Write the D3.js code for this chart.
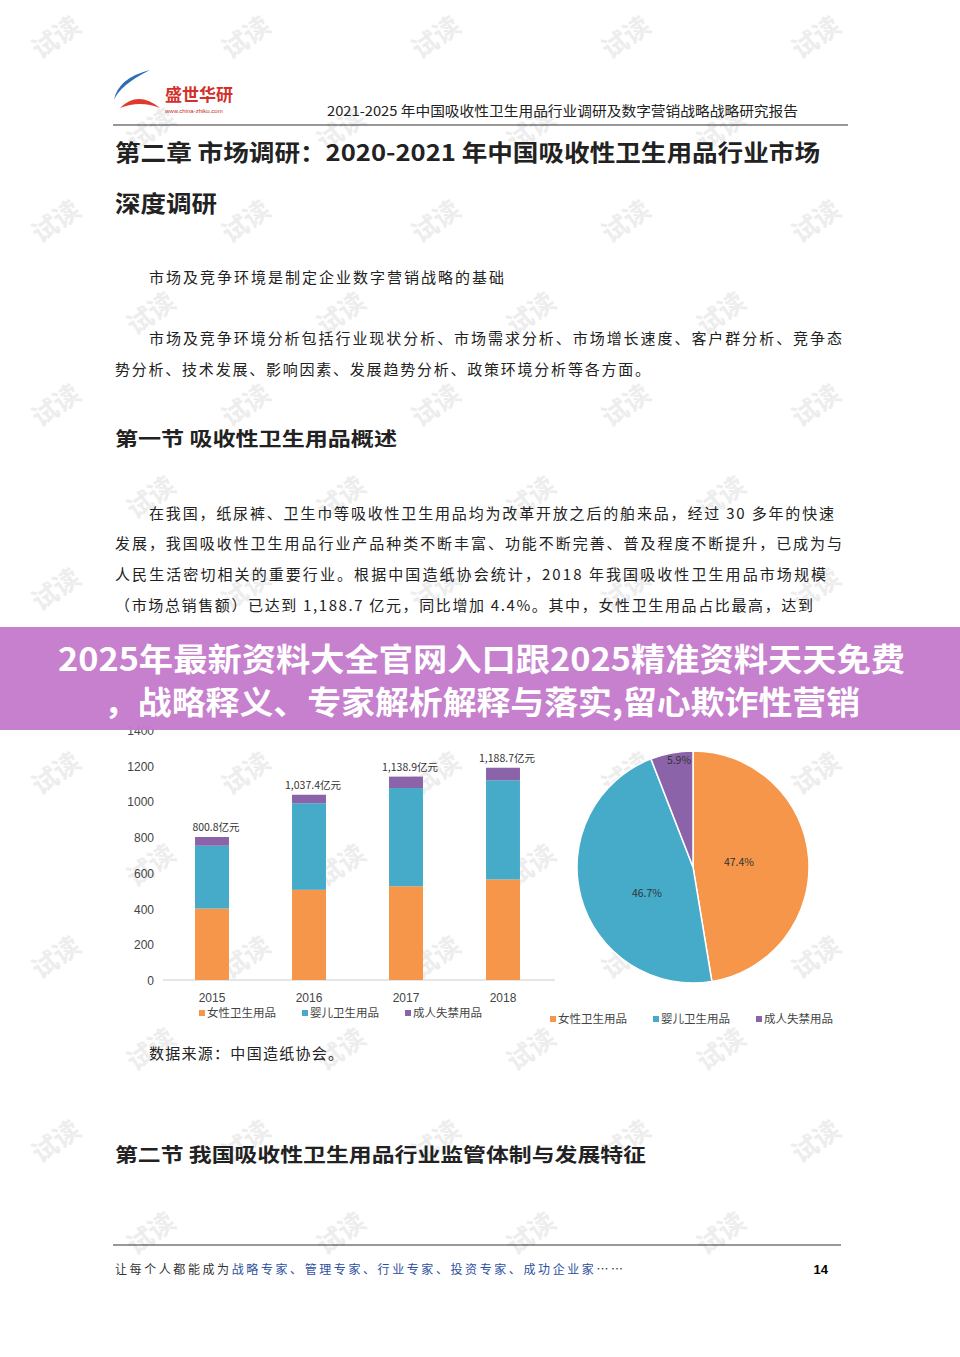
<!DOCTYPE html>
<html><head><meta charset="utf-8">
<script src="https://cdn.jsdelivr.net/npm/d3@7"></script>
<style>body{margin:0;background:#fff}svg{display:block}</style>
</head><body>
<svg width="960" height="1357"></svg>
<script>
const years = ['2015', '2016', '2017', '2018'];
const seriesNames = ['女性卫生用品', '婴儿卫生用品', '成人失禁用品'];
const female = [400, 505, 525, 563.4];
const baby = [352, 485, 550, 555.1];
const adult = [48.8, 47.4, 63.9, 70.2];
const totalLabels = ['800.8亿元', '1,037.4亿元', '1,138.9亿元', '1,188.7亿元'];
const yTicks = [0, 200, 400, 600, 800, 1000, 1200, 1400];
const pieShares = [47.4, 46.7, 5.9];
const pieLabels = ['47.4%', '46.7%', '5.9%'];
const colors = ['#f5964a', '#45abc9', '#8a63a8'];

const svg = d3.select('svg');
const font = "'Noto Sans CJK SC', sans-serif";

// watermarks
const wm = svg.append('g').attr('fill', '#ededed').attr('font-size', 26).attr('font-family', font).attr('font-weight', 'bold');
for (let r = 0; r < 14; r++) for (let c = 0; c < 5; c++) {
  const x = 40 + c * 190 + (r % 2) * 95, y = 60 + r * 92;
  if (x > 880) continue;
  wm.append('text').attr('transform', `translate(${x},${y}) rotate(-35)`).text('试读');
}

// header
svg.append('text').attr('x', 165).attr('y', 101).attr('fill', '#d2302a').attr('font-size', 17).attr('font-weight', 'bold').attr('font-family', font).text('盛世华研');
svg.append('text').attr('x', 165).attr('y', 113).attr('fill', '#c0302a').attr('font-size', 6).attr('font-family', 'Arial').text('www.china-zhiku.com');
svg.append('path').attr('d', 'M150,70 Q118,78 114,100 Q120,85 150,70Z').attr('fill', '#2f6fb5');
svg.append('path').attr('d', 'M120,108 Q138,90 160,108 Q140,100 120,108Z').attr('fill', '#e03a2e');
svg.append('text').attr('x', 327).attr('y', 116).attr('font-size', 13.5).attr('font-family', font).attr('fill', '#222')
  .attr('textLength', 471).attr('lengthAdjust', 'spacingAndGlyphs').text('2021-2025 年中国吸收性卫生用品行业调研及数字营销战略战略研究报告');
svg.append('line').attr('x1', 113).attr('x2', 848).attr('y1', 125).attr('y2', 125).attr('stroke', '#333').attr('stroke-width', 1.2);

const txt = (x, y, s, size, bold, endX, adj) => {
  const t = svg.append('text').attr('x', x).attr('y', y).attr('font-size', size)
    .attr('font-family', font).attr('font-weight', bold ? 'bold' : 'normal').attr('fill', '#222').text(s);
  if (endX) t.attr('textLength', endX - x).attr('lengthAdjust', adj || 'spacing');
  return t;
};
txt(115, 161, '第二章  市场调研：2020-2021 年中国吸收性卫生用品行业市场', 23, true, 820, 'spacingAndGlyphs');
txt(115, 212, '深度调研', 23, true, 217, 'spacingAndGlyphs');
txt(149, 283, '市场及竞争环境是制定企业数字营销战略的基础', 15, false, 504);
txt(149, 344, '市场及竞争环境分析包括行业现状分析、市场需求分析、市场增长速度、客户群分析、竞争态', 15, false, 842);
txt(115, 375, '势分析、技术发展、影响因素、发展趋势分析、政策环境分析等各方面。', 15, false, 650);
txt(115, 446, '第一节  吸收性卫生用品概述', 19, true, 397, 'spacingAndGlyphs');
txt(149, 519, '在我国，纸尿裤、卫生巾等吸收性卫生用品均为改革开放之后的舶来品，经过 30 多年的快速', 15, false, 834);
txt(115, 549, '发展，我国吸收性卫生用品行业产品种类不断丰富、功能不断完善、普及程度不断提升，已成为与', 15, false, 842);
txt(115, 580, '人民生活密切相关的重要行业。根据中国造纸协会统计，2018   年我国吸收性卫生用品市场规模', 15, false, 826);
txt(115, 611, '（市场总销售额）已达到 1,188.7 亿元，同比增加 4.4%。其中，女性卫生用品占比最高，达到', 15, false, 813);
txt(149, 1059, '数据来源：中国造纸协会。', 15, false, 343);
txt(115, 1162, '第二节  我国吸收性卫生用品行业监管体制与发展特征', 19, true, 646, 'spacingAndGlyphs');

// stacked bars
const x = d3.scaleBand().domain(years).range([163.5, 551.5]).paddingInner(0.65).paddingOuter(0.325);
const y = d3.scaleLinear().domain([0, 1400]).range([980, 730]);
const rows = years.map((yr, i) => ({ year: yr, f: female[i], b: baby[i], a: adult[i] }));
const stack = d3.stack().keys(['f', 'b', 'a'])(rows);
const g = svg.append('g');
g.append('line').attr('x1', 163).attr('x2', 555).attr('y1', y(0)).attr('y2', y(0)).attr('stroke', '#ccc');
yTicks.forEach(t => g.append('text').attr('x', 154).attr('y', y(t) + 5).attr('text-anchor', 'end')
  .attr('font-size', 12).attr('fill', '#444').attr('font-family', 'Arial').text(t));
stack.forEach((s, k) => g.selectAll(null).data(s).join('rect')
  .attr('x', d => x(d.data.year)).attr('width', x.bandwidth())
  .attr('y', d => y(d[1])).attr('height', d => y(d[0]) - y(d[1])).attr('fill', colors[k]));
years.forEach((yr, i) => {
  g.append('text').attr('x', x(yr) + x.bandwidth() / 2 + 4).attr('y', y(female[i] + baby[i] + adult[i]) - 6)
    .attr('text-anchor', 'middle').attr('font-size', 10.5).attr('fill', '#333').attr('font-family', font).text(totalLabels[i]);
  g.append('text').attr('x', x(yr) + x.bandwidth() / 2).attr('y', 1002).attr('text-anchor', 'middle')
    .attr('font-size', 12).attr('fill', '#444').attr('font-family', 'Arial').text(yr);
});
const legend = (lx, ly, gap) => seriesNames.forEach((n, k) => {
  svg.append('rect').attr('x', lx + k * gap).attr('y', ly - 7).attr('width', 6).attr('height', 6).attr('fill', colors[k]);
  svg.append('text').attr('x', lx + k * gap + 8).attr('y', ly).attr('font-size', 11.5).attr('fill', '#444').attr('font-family', font).text(n);
});
legend(199, 1017, 103);
legend(550, 1023, 103);

// pie
const pie = d3.pie().sort(null)(pieShares);
const arc = d3.arc().innerRadius(0).outerRadius(116);
const pg = svg.append('g').attr('transform', 'translate(693,867)');
pg.selectAll('path').data(pie).join('path').attr('d', arc).attr('fill', (d, i) => colors[i]).attr('stroke', '#fff').attr('stroke-width', 1.5);
const lpos = [[46, -1], [-46, 30], [-14, -103]];
pie.forEach((d, i) => pg.append('text').attr('x', lpos[i][0]).attr('y', lpos[i][1]).attr('text-anchor', 'middle')
  .attr('font-size', 10.5).attr('fill', '#333').attr('font-family', font).text(pieLabels[i]));

// banner
svg.append('rect').attr('x', 0).attr('y', 627).attr('width', 960).attr('height', 103).attr('fill', '#c57bcb').attr('opacity', 0.96);
svg.append('text').attr('x', 58).attr('y', 671).attr('font-size', 32).attr('font-weight', 'bold').attr('fill', '#fff').attr('font-family', font)
  .attr('textLength', 847).attr('lengthAdjust', 'spacingAndGlyphs').text('2025年最新资料大全官网入口跟2025精准资料天天免费');
svg.append('text').attr('x', 104).attr('y', 714).attr('font-size', 32).attr('font-weight', 'bold').attr('fill', '#fff').attr('font-family', font)
  .attr('textLength', 756).attr('lengthAdjust', 'spacingAndGlyphs').text('，战略释义、专家解析解释与落实,留心欺诈性营销');

// footer
svg.append('line').attr('x1', 113).attr('x2', 841).attr('y1', 1245).attr('y2', 1245).attr('stroke', '#333');
const ft = svg.append('text').attr('x', 115).attr('y', 1274).attr('font-size', 12).attr('font-family', font).attr('fill', '#333')
  .attr('textLength', 508).attr('lengthAdjust', 'spacing');
ft.append('tspan').text('让每个人都能成为');
ft.append('tspan').attr('fill', '#2d4fa0').text('战略专家、管理专家、行业专家、投资专家、成功企业家');
ft.append('tspan').text('……');
svg.append('text').attr('x', 828).attr('y', 1274).attr('text-anchor', 'end').attr('font-size', 13).attr('font-weight', 'bold').attr('font-family', 'Arial').text('14');
</script>
</body></html>
